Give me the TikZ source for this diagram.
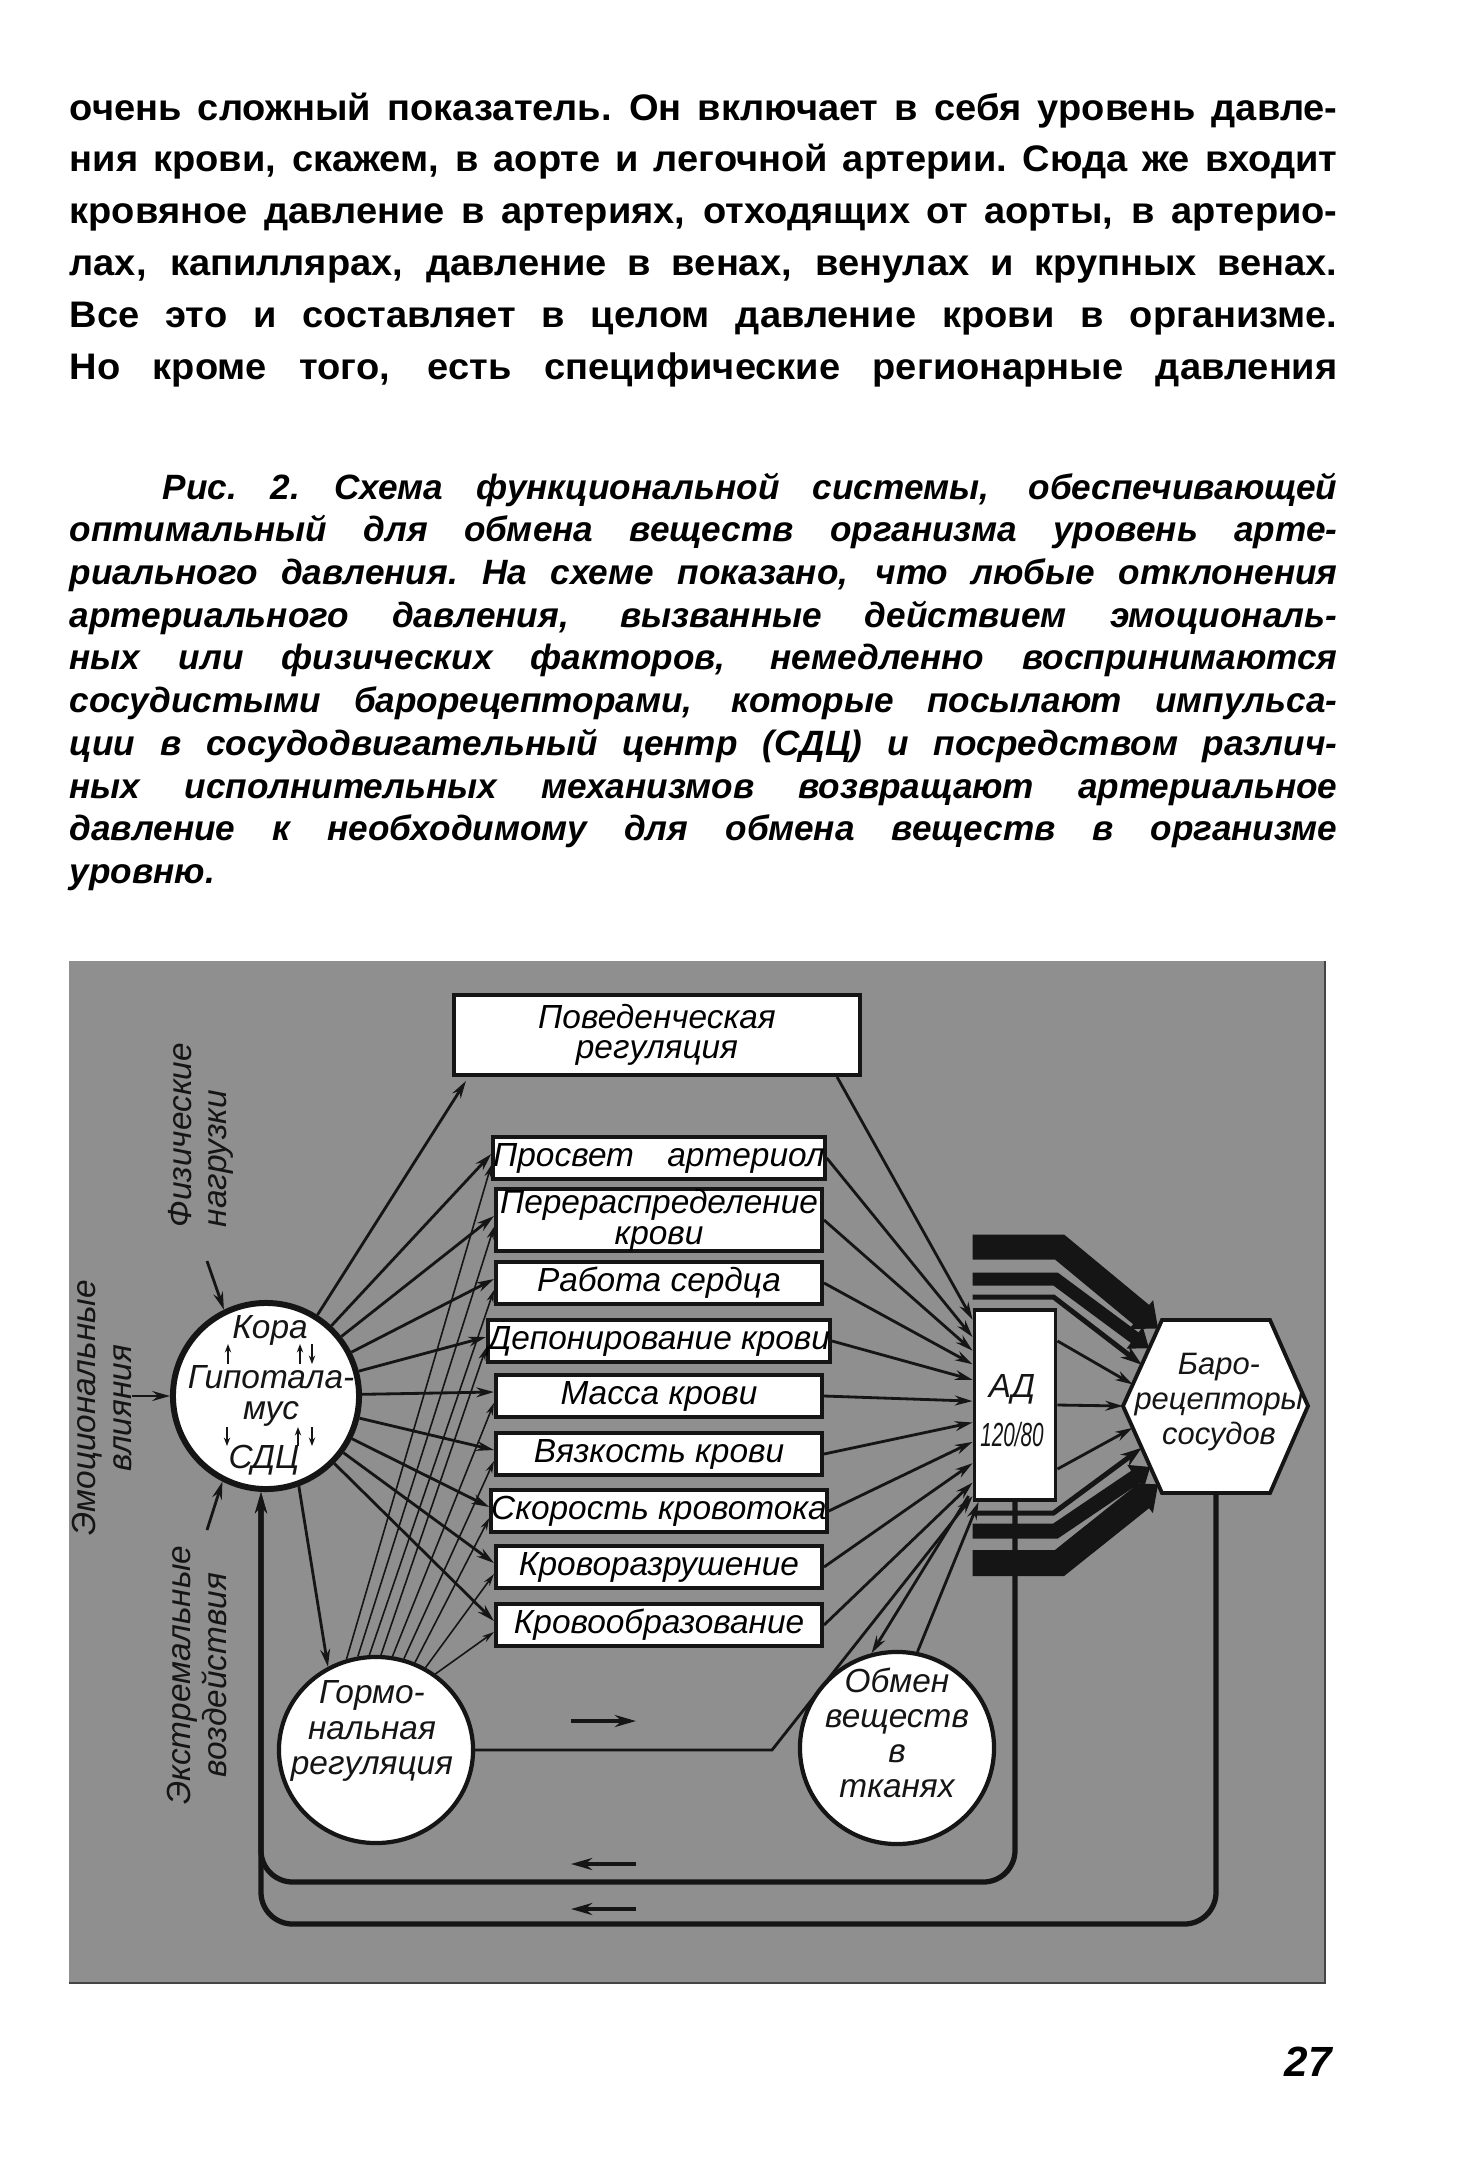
\documentclass[tikz,border=0pt]{standalone}
\usepackage{fontspec}
\setmainfont{Liberation Sans}
\newfontfamily\bodyfont{Liberation Sans}[FakeStretch=1.03]
\usepackage{graphicx}
\usetikzlibrary{arrows.meta,calc,positioning,shapes.geometric}
\definecolor{ink}{HTML}{151515}
\definecolor{plate}{HTML}{8F8F8F}
\newcommand\dgfont{\itshape\fontsize{9.5}{10}\selectfont}
\newcommand\fullline[1]{\makebox[12.67cm][s]{\spaceskip=0.28em plus 1fil\xspaceskip=0.3em plus 1fil\relax #1}}

\begin{document}
\begin{tikzpicture}[x=0.01cm,y=-0.01cm,
  every node/.style={inner sep=0pt},
  dtext/.style={font=\dgfont,text=ink,align=center},
  ebox/.style={draw=ink,fill=white,line width=1.1pt,minimum width=3.26cm,minimum height=0.42cm,font=\dgfont,align=center},
  arr/.style={ink,line width=0.8pt,-{Stealth[length=5pt,width=2.8pt]}},
  hline/.style={ink,line width=0.45pt,-{Stealth[length=3.5pt,width=2pt]}},
  fb/.style={ink,line width=1.5pt,rounded corners=9,-{Stealth[length=6pt,width=3.4pt]}},
  smarr/.style={ink,line width=0.5pt,-{Stealth[length=2.4pt,width=1.8pt]}},
  band/.style={ink,line join=miter}]
  \useasboundingbox (0,0) rectangle (1479,2160);

  \node[anchor=base west,text width=12.67cm,align=left,font=\bodyfont\bfseries\fontsize{10.5}{14.75}\selectfont] (body) at (69,120) {%
    \fullline{очень сложный показатель. Он включает в себя уровень давле-}\\
    \fullline{ния крови, скажем, в аорте и легочной артерии. Сюда же входит}\\
    \fullline{кровяное давление в артериях, отходящих от аорты, в артерио-}\\
    \fullline{лах, капиллярах, давление в венах, венулах и крупных венах.}\\
    \fullline{Все это и составляет в целом давление крови в организме.}\\
    \fullline{Но кроме того, есть специфические регионарные давления}};

  \node[anchor=base west,text width=12.67cm,align=left,font=\bfseries\itshape\fontsize{10}{12.15}\selectfont] (capt) at (69,499) {%
    \fullline{\hspace*{0.93cm}Рис. 2. Схема функциональной системы, обеспечивающей}\\
    \fullline{оптимальный для обмена веществ организма уровень арте-}\\
    \fullline{риального давления. На схеме показано, что любые отклонения}\\
    \fullline{артериального давления, вызванные действием эмоциональ-}\\
    \fullline{ных или физических факторов, немедленно воспринимаются}\\
    \fullline{сосудистыми барорецепторами, которые посылают импульса-}\\
    \fullline{ции в сосудодвигательный центр (СДЦ) и посредством различ-}\\
    \fullline{ных исполнительных механизмов возвращают артериальное}\\
    \fullline{давление к необходимому для обмена веществ в организме}\\
    уровню.};

  \fill[plate] (69,961) rectangle (1325,1983);
  \draw[ink!80,line width=0.8pt] (1325,961) -- (1325,1983) -- (69,1983);

  \node[ebox,minimum width=4.06cm,minimum height=0.80cm] (beh) at (657,1035) {Поведенческая\\[-1.5pt]регуляция};
  \foreach \i/\yy/\hh/\txt in {1/1158/0.42/{Просвет\quad артериол},2/1220/0.56/{Перераспределение\\[-1.2pt]крови},
      3/1283/0.42/{Работа сердца},4/1341/0.42/{Депонирование крови},5/1396/0.42/{Масса крови},
      6/1454/0.42/{Вязкость крови},7/1511/0.42/{Скорость кровотока},8/1567/0.42/{Кроворазрушение},
      9/1625/0.42/{Кровообразование}}
    \node[ebox,minimum height=\hh cm] (b\i) at (659,\yy) {\txt};

  \node[draw=ink,fill=white,line width=1.1pt,minimum width=0.81cm,minimum height=1.90cm] (ad) at (1015,1405) {};
  \node[dtext] (adt) at (1012,1411) {АД\\[4pt]\scalebox{0.62}[1]{120/80}};

  \coordinate (hl) at (1123,1406);
  \coordinate (htl) at (1162,1320);
  \coordinate (htr) at (1270,1320);
  \coordinate (hr) at (1308,1406);
  \coordinate (hbr) at (1270,1493);
  \coordinate (hbl) at (1162,1493);
  \draw[ink,fill=white,line width=1.1pt] (hl) -- (htl) -- (htr) -- (hr) -- (hbr) -- (hbl) -- cycle;
  \node[dtext,font=\dgfont\fontsize{8.8}{10}\selectfont] (baro) at (1219,1402) {Баро-\\рецепторы\\сосудов};

  \node[circle,draw=ink,fill=white,line width=1.7pt,minimum size=1.86cm] (sdc) at (266,1396) {};
  \node[dtext] (kora) at (270,1330) {Кора};
  \node[dtext] (gipo) at (271,1396) {Гипотала-\\[-1pt]мус};
  \node[dtext] (cdc) at (264,1460) {СДЦ};
  \foreach \dx/\ya/\yb in {-38/-32/-52,34/-32/-52,46/-52/-32,-39/31/50,32/50/31,46/31/50}
    \draw[smarr] ($(sdc)+(\dx,\ya)$) -- ($(sdc)+(\dx,\yb)$);

  \node[ellipse,draw=ink,fill=white,line width=1.2pt,minimum width=1.94cm,minimum height=1.86cm] (horm) at (376,1750) {};
  \node[dtext] (hormt) at (372,1731) {Гормо-\\нальная\\регуляция};
  \node[ellipse,draw=ink,fill=white,line width=1.2pt,minimum width=1.94cm,minimum height=1.92cm] (obm) at (897,1748) {};
  \node[dtext] (obmt) at (897,1733) {Обмен\\веществ\\в\\тканях};

  \node[dtext,rotate=90,anchor=west,align=left] (fiz) at (201,1228) {Физические\\нагрузки};
  \node[dtext,rotate=90] (emo) at (102,1408) {Эмоциональные\\влияния};
  \node[dtext,rotate=90] (ext) at (197,1675) {Экстремальные\\воздействия};

  \draw[arr] ($(fiz.west)+(6,33)$) -- (sdc.116);
  \draw[arr] (emo.south |- sdc.west) -- (sdc.west);
  \draw[arr] ($(ext.east)+(10,-15)$) -- (sdc.243);

  \draw[arr] (sdc) -- ($(beh.south west)+(14,4)$);
  \foreach \i in {1,...,9}
    \draw[arr] (sdc) -- ($(b\i.west)+(0,-4)$);
  \draw[arr] (sdc.-70) -- (horm.120);
  \foreach \i/\a in {1/108,2/101,3/94,4/87,5/80,6/73,7/66,8/59,9/52}
    \draw[hline] (horm.\a) -- ($(b\i.west)+(0,7)$);

  \draw[arr] ($(beh.south east)+(-25,0)$) -- ($(ad.north west)!0.06!(ad.south west)$);
  \foreach \i/\f in {1/0.15,2/0.22,3/0.29,4/0.37,5/0.48,6/0.59,7/0.69,8/0.80,9/0.90}
    \draw[arr] (b\i.east) -- ($(ad.north west)!\f!(ad.south west)$);

  \coordinate (hbend) at (772,1750);
  \draw[arr] (horm.east) -- (hbend) -- ($(ad.north west)!0.97!(ad.south west)$);
  \draw[arr] ($(ad.south west)+(-4,-6)$) -- (obm.105);
  \draw[arr] (obm.78) -- ($(ad.south west)+(6,0)$);

  \draw[band,line width=0.25cm,-{Triangle[length=0.22cm,width=0.36cm]}] ($(ad.north west)+(0,-61)$) -- ++(87,0) -- ($(hl)!0.9!(htl)$);
  \draw[band,line width=0.13cm,-{Triangle[length=0.18cm,width=0.26cm]}] ($(ad.north west)+(0,-29)$) -- ++(83,0) -- ($(hl)!0.67!(htl)$);
  \draw[band,line width=0.05cm,-{Stealth[length=6pt,width=4pt]}] ($(ad.north west)+(0,-11)$) -- ++(81,0) -- ($(hl)!0.48!(htl)$);
  \draw[band,line width=0.05cm,-{Stealth[length=6pt,width=4pt]}] ($(ad.south west)+(0,11)$) -- ++(81,0) -- ($(hl)!0.48!(hbl)$);
  \draw[band,line width=0.15cm,-{Triangle[length=0.18cm,width=0.28cm]}] ($(ad.south west)+(0,29)$) -- ++(83,0) -- ($(hl)!0.7!(hbl)$);
  \draw[band,line width=0.26cm,-{Triangle[length=0.22cm,width=0.37cm]}] ($(ad.south west)+(0,61)$) -- ++(87,0) -- ($(hl)!0.9!(hbl)$);

  \draw[arr] ($(ad.north east)!0.17!(ad.south east)$) -- ($(hl)!0.25!(htl)$);
  \draw[arr] (ad.east) -- (hl);
  \draw[arr] ($(ad.north east)!0.83!(ad.south east)$) -- ($(hl)!0.25!(hbl)$);

  \coordinate (fbup) at (261,1882);
  \coordinate (fblow) at (261,1924);
  \draw[fb] (ad.south) |- (fbup) -- (sdc.south -| fbup);
  \draw[fb] ($(hbl)!0.5!(hbr)$) |- (fblow) -- (sdc.south -| fblow);

  \draw[ink,line width=1pt,-{Stealth[length=6pt,width=3.4pt]}] (571,1721) -- (636,1721);
  \draw[ink,line width=1pt,-{Stealth[length=6pt,width=3.4pt]}] (636,1864) -- (571,1864);
  \draw[ink,line width=1pt,-{Stealth[length=6pt,width=3.4pt]}] (636,1909) -- (571,1909);

  \node[font=\bfseries\itshape\fontsize{12}{14}\selectfont] (pnum) at (1308,2062) {27};
\end{tikzpicture}
\end{document}
